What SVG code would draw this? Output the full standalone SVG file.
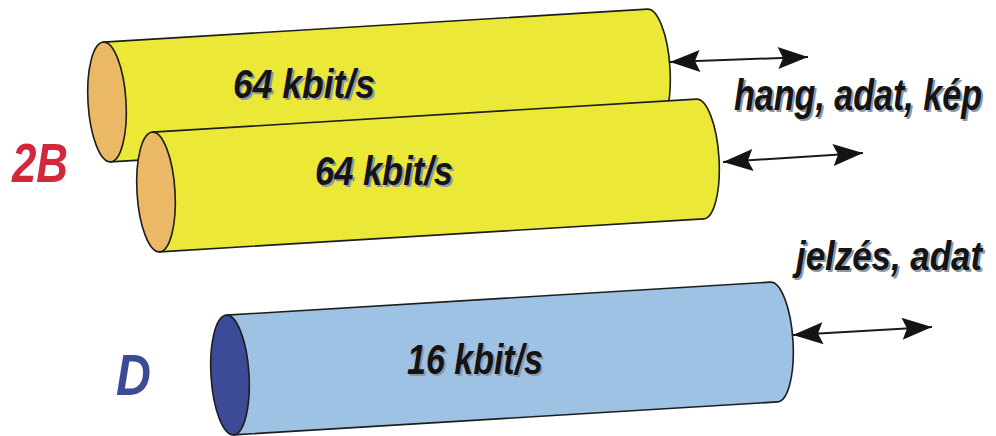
<svg xmlns="http://www.w3.org/2000/svg" width="996" height="436" viewBox="0 0 996 436">
  <style>
    .body { stroke: #1e1e1e; stroke-width: 1.6; stroke-linejoin: round; }
    .yellow { fill: #ECE838; }
    .ocap { fill: #EBB865; }
    .blue { fill: #9DC2E4; }
    .bcap { fill: #3B4B98; }
    .lbl { font-family: "Liberation Sans", Arial, sans-serif; font-weight: bold; font-style: italic; }
    .ink { fill: #141414; }
    .shade { fill: #8E97A8; }
    .conn { stroke: #1a1a1a; stroke-width: 2; fill: none; }
  </style>
  <defs>
    <marker id="head" viewBox="-1 -13 33 26" markerWidth="33" markerHeight="26" refX="30" refY="0" orient="auto-start-reverse" markerUnits="userSpaceOnUse">
      <path d="M0,-11 L30,0 L0,11 L5,0 Z" fill="#141414"/>
    </marker>
  </defs>

  <rect width="996" height="436" fill="#ffffff"/>

  <!-- first B channel -->
  <g id="b1">
    <g transform="translate(107,102) rotate(-3.47)">
      <path class="body yellow" d="M0,-60 L545,-60 A19,60 0 0 1 545,60 L0,60 Z"/>
      <ellipse class="body ocap" cx="0" cy="0" rx="19" ry="60"/>
    </g>
    <text class="lbl shade" x="235" y="100" font-size="40" textLength="142" lengthAdjust="spacingAndGlyphs">64 kbit/s</text>
    <text class="lbl ink" x="233" y="98" font-size="40" textLength="142" lengthAdjust="spacingAndGlyphs">64 kbit/s</text>
  </g>

  <!-- second B channel -->
  <g id="b2">
    <g transform="translate(156,192) rotate(-3.47)">
      <path class="body yellow" d="M0,-60 L545,-60 A19,60 0 0 1 545,60 L0,60 Z"/>
      <ellipse class="body ocap" cx="0" cy="0" rx="19" ry="60"/>
    </g>
    <text class="lbl shade" x="317" y="187" font-size="40" textLength="138" lengthAdjust="spacingAndGlyphs">64 kbit/s</text>
    <text class="lbl ink" x="315" y="185" font-size="40" textLength="138" lengthAdjust="spacingAndGlyphs">64 kbit/s</text>
  </g>

  <!-- D channel -->
  <g id="d">
    <g transform="translate(230,375) rotate(-3.47)">
      <path class="body blue" d="M0,-60 L545,-60 A19,60 0 0 1 545,60 L0,60 Z"/>
      <ellipse class="body bcap" cx="0" cy="0" rx="19" ry="60"/>
    </g>
    <text class="lbl shade" x="409" y="376" font-size="42" textLength="136" lengthAdjust="spacingAndGlyphs">16 kbit/s</text>
    <text class="lbl ink" x="407" y="374" font-size="42" textLength="136" lengthAdjust="spacingAndGlyphs">16 kbit/s</text>
  </g>

  <!-- channel group names -->
  <g id="label-2b">
    <text class="lbl" x="12" y="182" font-size="55" fill="#D2283C" textLength="56" lengthAdjust="spacingAndGlyphs">2B</text>
  </g>
  <g id="label-d">
    <text class="lbl" x="116" y="395" font-size="57" fill="#3B4B98" textLength="35" lengthAdjust="spacingAndGlyphs">D</text>
  </g>

  <!-- carried traffic -->
  <g id="label-bearer">
    <text class="lbl shade" x="736" y="112" font-size="44" textLength="248" lengthAdjust="spacingAndGlyphs">hang, adat, kép</text>
    <text class="lbl ink" x="734" y="110" font-size="44" textLength="248" lengthAdjust="spacingAndGlyphs">hang, adat, kép</text>
  </g>
  <g id="label-signal">
    <text class="lbl shade" x="798" y="272" font-size="41" textLength="186" lengthAdjust="spacingAndGlyphs">jelzés, adat</text>
    <text class="lbl ink" x="796" y="270" font-size="41" textLength="186" lengthAdjust="spacingAndGlyphs">jelzés, adat</text>
  </g>

  <!-- two-way flows -->
  <g id="connectors">
    <line class="conn" x1="670" y1="62" x2="808" y2="57" marker-start="url(#head)" marker-end="url(#head)"/>
    <line class="conn" x1="723" y1="162" x2="863" y2="153" marker-start="url(#head)" marker-end="url(#head)"/>
    <line class="conn" x1="793" y1="335" x2="932" y2="327" marker-start="url(#head)" marker-end="url(#head)"/>
  </g>
</svg>
